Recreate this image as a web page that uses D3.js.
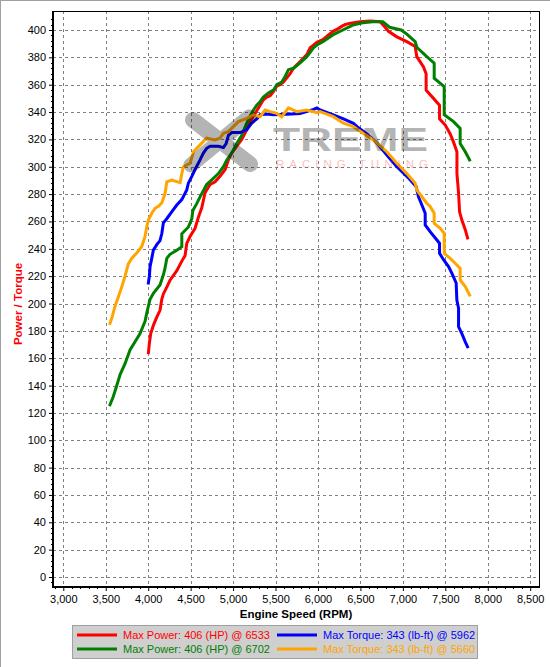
<!DOCTYPE html>
<html>
<head>
<meta charset="utf-8">
<script src="https://cdn.jsdelivr.net/npm/d3@7"></script>
<style>
  html, body { margin: 0; padding: 0; background: #ffffff; }
  svg { display: block; }
  text { font-family: "Liberation Sans", Arial, sans-serif; }
</style>
</head>
<body>
<svg id="chart" width="550" height="667"></svg>
<script>
// ---------- DATA ----------
const xTicks = [3000, 3500, 4000, 4500, 5000, 5500, 6000, 6500, 7000, 7500, 8000, 8500];
const yTicks = [0, 20, 40, 60, 80, 100, 120, 140, 160, 180, 200, 220, 240, 260, 280, 300, 320, 340, 360, 380, 400];

// Run 1 power (red)
const powerRedRpm = [4003,4014,4030,4061,4101,4139,4160,4179,4219,4257,4337,4396,4434,4454,4493,4552,4591,4631,4670,4729,4788,4846,4906,4945,4984,5043,5102,5161,5200,5240,5279,5318,5357,5397,5436,5475,5515,5553,5594,5633,5672,5711,5790,5869,5908,5947,5987,6057,6117,6178,6238,6289,6324,6383,6497,6614,6732,6791,6831,6929,7047,7145,7164,7243,7274,7274,7361,7432,7432,7499,7558,7597,7637,7637,7656,7668,7695,7735,7762];
const powerRedHp  = [164,171,178,184,190,195,203,207,212,217,224,231,235,244,249,255,263,270,281,287,289,293,298,305,310,315,320,327,333,337,341,345,349,351,352,355,359,360,362,365,368,372,377,382,387,389,391,393,396,399,401,403,404,405,406,406.5,406,402,399,395,391.5,388,380.5,373,368,356,350,345,335,330.5,324,318,311,295,281,267,261,254,248];

// Run 2 power (green)
const powerGreenRpm = [3550,3589,3630,3669,3727,3786,3845,3904,3963,3983,4002,4022,4061,4139,4179,4199,4219,4257,4337,4396,4396,4474,4514,4526,4572,4611,4689,4768,4827,4886,4926,4984,5043,5102,5161,5200,5240,5279,5318,5357,5417,5475,5515,5574,5613,5652,5711,5790,5869,5947,5987,6057,6175,6293,6410,6528,6645,6764,6843,6979,7047,7145,7164,7282,7369,7369,7487,7487,7597,7675,7675,7735,7786];
const powerGreenHp  = [126,132,140,148,156,166,172,178,187,193,198,203,207.5,213.5,221,226,233,236,239,241.5,251,256,262,268,273,278,287,291.5,295,300,305,310,317,323,332,337,341.5,345,347.6,351,354,356,360,362,366,371,372,376,380.5,387,389,391.5,396.4,400,403.6,405.3,406,406,402,400,397,391.5,387.4,380.5,375.7,364.7,358.6,338,333,328,317,311,305];

// Run 1 torque (blue)
const torqueBlueRpm = [4002,4014,4022,4042,4061,4101,4139,4160,4179,4219,4277,4337,4396,4454,4473,4514,4552,4611,4650,4689,4729,4827,4886,4918,4945,4984,5083,5161,5220,5279,5318,5397,5475,5633,5790,5947,5987,6025,6182,6300,6417,6461,6575,6693,6811,6929,7047,7156,7184,7224,7263,7263,7321,7401,7432,7432,7479,7538,7578,7628,7636,7656,7656,7695,7735,7762];
const torqueBlueLbft = [215,220,227,233,239,243,246,251,259,262,267,272,276,283,288,293,298,305,310,313.5,315,315,314,317,323,325,325,327,332,335,338,338.6,338,338.4,339,342,343,341.5,338,335,331.8,329.3,324,317.5,308.5,300,293,285.5,278,272,266,257.4,252.5,246.4,244,236.7,232,227,222,215,202.6,196.5,183,178,172,168.4];

// Run 2 torque (orange)
const torqueOrangeRpm = [3550,3570,3609,3649,3688,3727,3766,3806,3865,3923,3963,3983,4002,4042,4081,4120,4160,4199,4219,4277,4376,4396,4415,4493,4533,4611,4689,4788,4846,4886,4945,5003,5063,5161,5240,5318,5377,5436,5515,5574,5652,5751,5869,5987,6025,6182,6300,6417,6536,6654,6811,6929,7047,7145,7164,7282,7321,7369,7369,7440,7487,7487,7558,7616,7675,7675,7735,7786];
const torqueOrangeLbft = [185.5,189,198,205,212,220,229,233,237,241.5,249,256,261,266,269.6,271,273.5,280.6,289,290.3,288.4,295,300,302.5,311,316,321,319.6,321,324.4,325.7,329.3,333,335.4,338,336.6,341.5,340.3,339,336.6,343,340.3,341.5,339.5,340.3,336.6,331.8,329.3,324.4,319.6,311,302.5,295,288,283,273.3,271,266,258.6,255,251.3,236.7,233,229.4,225.7,217.2,212.3,206.2];

const legendLabels = [
  "Max Power: 406 (HP) @ 6533",
  "Max Torque: 343 (lb-ft) @ 5962",
  "Max Power: 406 (HP) @ 6702",
  "Max Torque: 343 (lb-ft) @ 5660"
];

// ---------- LAYOUT ----------
const svg = d3.select("#chart");
const plotL = 53, plotR = 539, plotT = 11, plotB = 587;

const x = d3.scaleLinear().domain([3000, 8500]).range([63.3, 530.2]);
const y = d3.scaleLinear().domain([0, 400]).range([577, 30]);

// outer gray frame (top and left)
svg.append("line").attr("x1", 0.5).attr("y1", 0).attr("x2", 0.5).attr("y2", 667).attr("stroke", "#a0a0a0").attr("stroke-width", 1);
svg.append("line").attr("x1", 0).attr("y1", 0.5).attr("x2", 550).attr("y2", 0.5).attr("stroke", "#a0a0a0").attr("stroke-width", 1);

// plot background
svg.append("rect").attr("x", plotL).attr("y", plotT).attr("width", plotR - plotL).attr("height", plotB - plotT).attr("fill", "#ffffff");

// grid
const grid = svg.append("g").attr("stroke", "#808080").attr("stroke-width", 1).attr("stroke-dasharray", "3,3").attr("shape-rendering", "crispEdges");
grid.selectAll("line.v").data(xTicks).join("line")
  .attr("x1", d => Math.round(x(d)) + 0.5).attr("x2", d => Math.round(x(d)) + 0.5)
  .attr("y1", plotT).attr("y2", plotB);
grid.selectAll("line.h").data(yTicks).join("line")
  .attr("x1", plotL).attr("x2", plotR)
  .attr("y1", d => Math.round(y(d)) + 0.5).attr("y2", d => Math.round(y(d)) + 0.5);

// curves
const series = [
  { rpm: powerRedRpm, val: powerRedHp, color: "#ff0000" },
  { rpm: powerGreenRpm, val: powerGreenHp, color: "#008000" },
  { rpm: torqueBlueRpm, val: torqueBlueLbft, color: "#0000ff" },
  { rpm: torqueOrangeRpm, val: torqueOrangeLbft, color: "#ffa500" }
];
const line = d3.line().x(d => x(d[0])).y(d => y(d[1])).curve(d3.curveLinear);
const curves = svg.append("g");
series.forEach(s => {
  curves.append("path")
    .datum(s.rpm.map((r, i) => [r, s.val[i]]))
    .attr("d", line)
    .attr("fill", "none")
    .attr("stroke", s.color)
    .attr("stroke-width", 3)
    .attr("stroke-linejoin", "miter")
    .attr("stroke-linecap", "square");
});

// watermark (drawn over curves, translucent)
const wm = svg.append("g").attr("opacity", 0.29);
wm.append("line").attr("x1", 193).attr("y1", 120).attr("x2", 250).attr("y2", 164)
  .attr("stroke", "#000").attr("stroke-width", 16).attr("stroke-linecap", "round");
wm.append("line").attr("x1", 249).attr("y1", 117).attr("x2", 191).attr("y2", 165)
  .attr("stroke", "#000").attr("stroke-width", 15).attr("stroke-linecap", "round");
wm.append("text").attr("x", 273).attr("y", 151)
  .attr("font-family", "'DejaVu Sans', sans-serif").attr("font-weight", "bold").attr("font-size", 34)
  .attr("textLength", 155).attr("lengthAdjust", "spacingAndGlyphs")
  .attr("fill", "#000").text("TREME");
svg.append("text").attr("x", 276).attr("y", 168)
  .attr("font-size", 11.5).attr("textLength", 152).attr("lengthAdjust", "spacing")
  .attr("fill", "#e00000").attr("opacity", 0.25).text("RACING TUNING");

// frame
svg.append("line").attr("x1", plotL).attr("y1", plotT + 0.5).attr("x2", plotR).attr("y2", plotT + 0.5).attr("stroke", "#000").attr("stroke-width", 1);
svg.append("line").attr("x1", plotR + 0.5).attr("y1", plotT).attr("x2", plotR + 0.5).attr("y2", plotB).attr("stroke", "#000").attr("stroke-width", 1);

// minor ticks
const minorY = d3.range(-4, 412, 4).filter(v => v % 20 !== 0);
const minorX = d3.range(2900, 8600, 100).filter(v => v % 500 !== 0);
svg.append("g").selectAll("line").data(minorY).join("line")
  .attr("x1", plotL - 2).attr("x2", plotL).attr("y1", d => Math.round(y(d)) + 0.5).attr("y2", d => Math.round(y(d)) + 0.5)
  .attr("stroke", "#000").attr("stroke-width", 1);
svg.append("g").selectAll("line").data(minorX).join("line")
  .attr("x1", d => Math.round(x(d)) + 0.5).attr("x2", d => Math.round(x(d)) + 0.5).attr("y1", plotB).attr("y2", plotB + 2)
  .attr("stroke", "#000").attr("stroke-width", 1);

// axes
const yAxis = d3.axisLeft(y).tickValues(yTicks).tickSize(4).tickSizeOuter(0).tickPadding(3).tickFormat(d3.format("d"));
const gy = svg.append("g").attr("transform", `translate(${plotL},0)`).call(yAxis);
gy.select(".domain").remove();
gy.selectAll("text").attr("font-size", 11).attr("font-family", "'Liberation Sans', Arial, sans-serif").attr("fill", "#000");

const xAxis = d3.axisBottom(x).tickValues(xTicks).tickSize(4).tickSizeOuter(0).tickPadding(4).tickFormat(d3.format(","));
const gx = svg.append("g").attr("transform", `translate(0,${plotB})`).call(xAxis);
gx.select(".domain").remove();
gx.selectAll("text").attr("font-size", 11).attr("font-family", "'Liberation Sans', Arial, sans-serif").attr("fill", "#000");

// thick left and bottom axis lines
svg.append("line").attr("x1", plotL).attr("y1", plotT).attr("x2", plotL).attr("y2", plotB + 1).attr("stroke", "#000").attr("stroke-width", 2);
svg.append("line").attr("x1", plotL - 1).attr("y1", plotB).attr("x2", plotR + 1).attr("y2", plotB).attr("stroke", "#000").attr("stroke-width", 2);

// axis titles
svg.append("text").attr("x", 296).attr("y", 618).attr("text-anchor", "middle")
  .attr("font-size", 11.5).attr("font-weight", "bold").attr("fill", "#000").text("Engine Speed (RPM)");
svg.append("text").attr("transform", "translate(22,304) rotate(-90)").attr("text-anchor", "middle")
  .attr("font-size", 11.5).attr("font-weight", "bold").attr("fill", "#ff0000").text("Power / Torque");

// legend
const lg = svg.append("g");
lg.append("rect").attr("x", 72.5).attr("y", 625.5).attr("width", 405).attr("height", 33)
  .attr("fill", "#cfcfcf").attr("stroke", "#a0a0a0").attr("stroke-width", 1);
const legendPos = [[77, 635], [277, 635], [77, 649], [277, 649]];
const legendColors = ["#ff0000", "#0000ff", "#008000", "#ffa500"];
legendLabels.forEach((lab, i) => {
  const [lx, ly] = legendPos[i];
  lg.append("line").attr("x1", lx).attr("x2", lx + 40).attr("y1", ly).attr("y2", ly)
    .attr("stroke", legendColors[i]).attr("stroke-width", 3);
  lg.append("text").attr("x", lx + 46).attr("y", ly + 4).attr("font-size", 11)
    .attr("fill", legendColors[i]).text(lab);
});
</script>
</body>
</html>
